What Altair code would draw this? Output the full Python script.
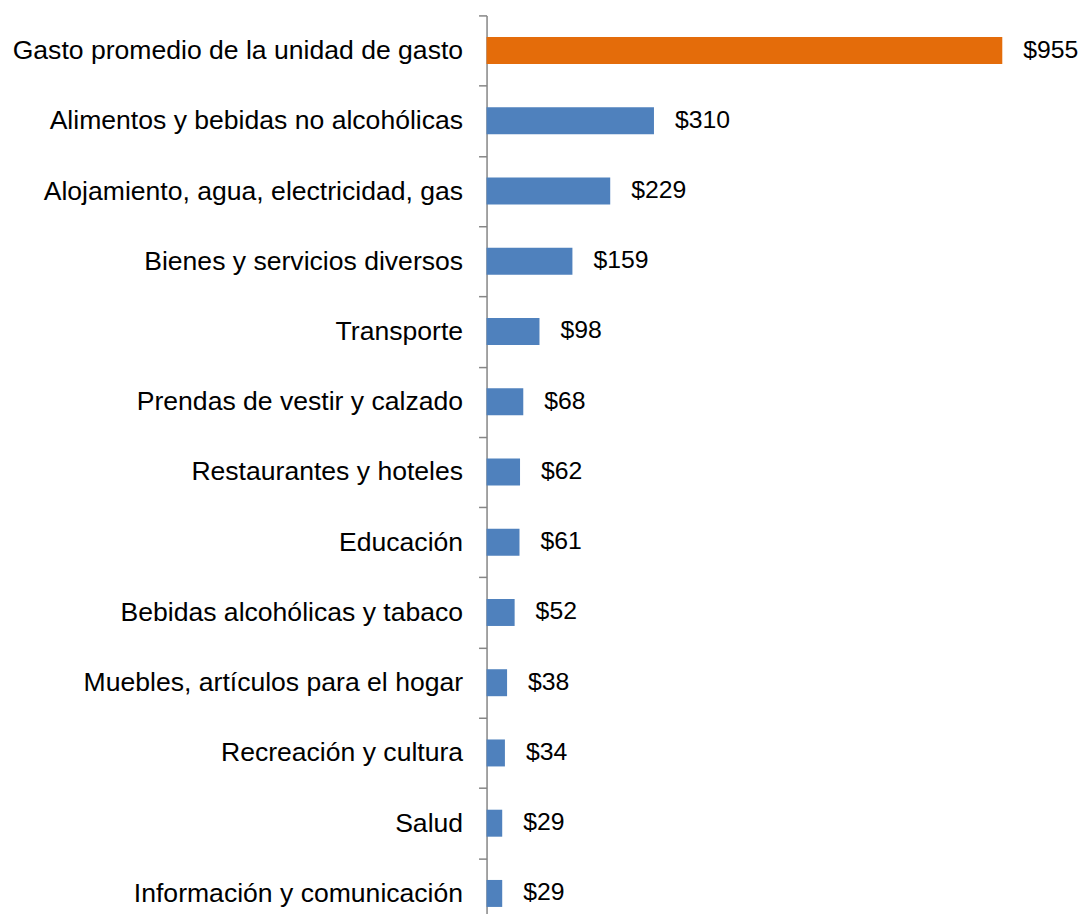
import altair as alt
import pandas as pd

categories = [
    "Gasto promedio de la unidad de gasto",
    "Alimentos y bebidas no alcohólicas",
    "Alojamiento, agua, electricidad, gas",
    "Bienes y servicios diversos",
    "Transporte",
    "Prendas de vestir y calzado",
    "Restaurantes y hoteles",
    "Educación",
    "Bebidas alcohólicas y tabaco",
    "Muebles, artículos para el hogar",
    "Recreación y cultura",
    "Salud",
    "Información y comunicación",
]
values = [955, 310, 229, 159, 98, 68, 62, 61, 52, 38, 34, 29, 29]
groups = ["total"] + ["item"] * 12

df = pd.DataFrame({"cat": categories, "val": values, "grp": groups})
df["label"] = ["$" + str(v) for v in values]

FONT = "Liberation Sans"

y = alt.Y("cat:N", sort=categories, title=None,
          scale=alt.Scale(paddingInner=0, paddingOuter=0, range=[0, 914]),
          axis=alt.Axis(labelFont=FONT, labelFontSize=26.6, labelColor="#000000",
                        labelPadding=16, tickBand="extent", tickSize=8,
                        tickColor="#868686", tickWidth=1.5,
                        domainColor="#868686", domainWidth=1.5,
                        labelLimit=600))
x = alt.X("val:Q", title=None, scale=alt.Scale(domain=[0, 1073], nice=False),
          axis=None)

bars = alt.Chart(df).mark_bar(size=27).encode(
    x=x, y=y,
    color=alt.Color("grp:N", scale=alt.Scale(domain=["total", "item"],
                                              range=["#E46C0A", "#4F81BD"]),
                    legend=None),
)
text = alt.Chart(df).mark_text(align="left", dx=21, font=FONT, fontSize=24.8,
                               color="#000000").encode(
    x=x, y=y, text="label:N")

chart = alt.layer(bars, text).properties(
    width=580, height=899,
    autosize=alt.AutoSizeParams(type="none"),
    padding={"left": 479, "top": 7, "right": 14, "bottom": 0},
).configure_view(stroke=None)

chart.save("out.html", embed_options={"renderer": "svg", "actions": False})
